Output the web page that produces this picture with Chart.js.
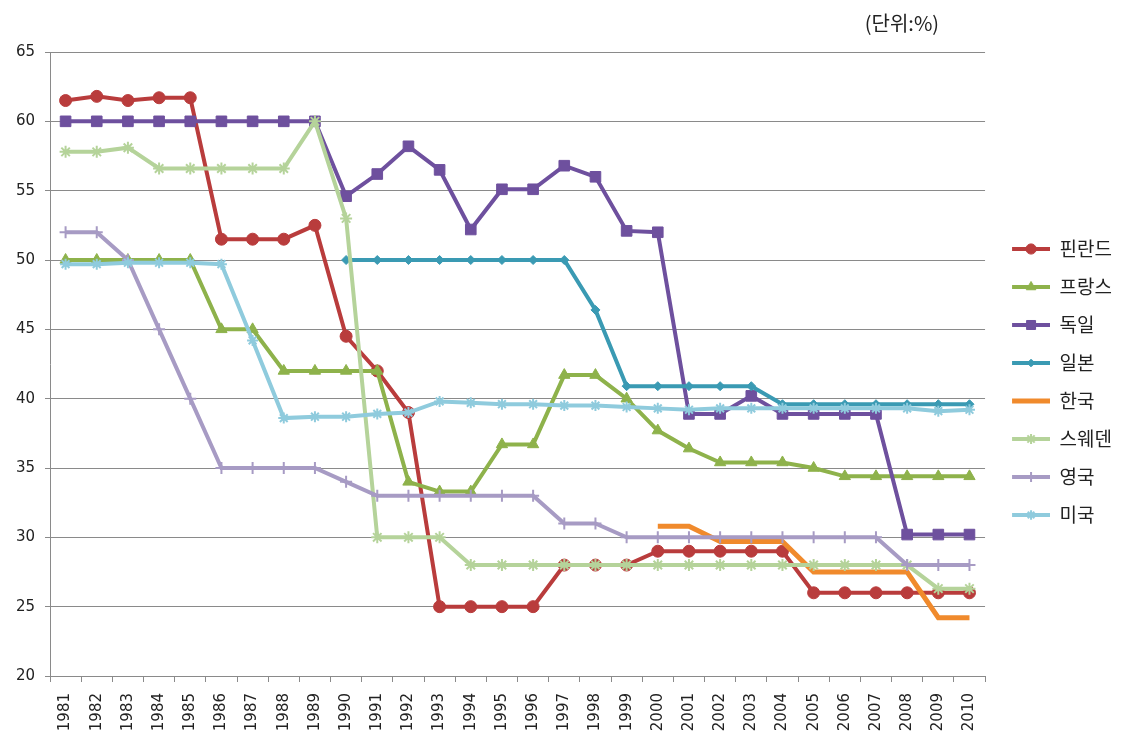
<!DOCTYPE html>
<html>
<head>
<meta charset="utf-8">
<script src="https://cdn.jsdelivr.net/npm/chart.js@4.4.1/dist/chart.umd.min.js"></script>
<style>
  html, body { margin: 0; padding: 0; background: #fff; }
  #wrap { width: 1124px; height: 740px; }
</style>
</head>
<body>
<div id="wrap"><canvas id="myChart" width="1124" height="740"></canvas></div>
<script>
// 연도
const years = ['1981', '1982', '1983', '1984', '1985', '1986', '1987', '1988', '1989', '1990',
  '1991', '1992', '1993', '1994', '1995', '1996', '1997', '1998', '1999', '2000',
  '2001', '2002', '2003', '2004', '2005', '2006', '2007', '2008', '2009', '2010']

// values (%)
const finland = [61.5, 61.8, 61.5, 61.7, 61.7, 51.5, 51.5, 51.5, 52.5, 44.5,
  42, 39, 25, 25, 25, 25, 28, 28, 28, 29,
  29, 29, 29, 29, 26, 26, 26, 26, 26, 26]
const france = [50, 50, 50, 50, 50, 45, 45, 42, 42, 42,
  42, 34, 33.3, 33.3, 36.7, 36.7, 41.7, 41.7, 40, 37.7,
  36.4, 35.4, 35.4, 35.4, 35, 34.4, 34.4, 34.4, 34.4, 34.4]
const germany = [60, 60, 60, 60, 60, 60, 60, 60, 60, 54.6,
  56.2, 58.2, 56.5, 52.2, 55.1, 55.1, 56.8, 56, 52.1, 52,
  38.9, 38.9, 40.2, 38.9, 38.9, 38.9, 38.9, 30.2, 30.2, 30.2]
const japan = [null, null, null, null, null, null, null, null, null, 50,
  50, 50, 50, 50, 50, 50, 50, 46.4, 40.9, 40.9,
  40.9, 40.9, 40.9, 39.6, 39.6, 39.6, 39.6, 39.6, 39.6, 39.6]
const korea = [null, null, null, null, null, null, null, null, null, null,
  null, null, null, null, null, null, null, null, null, 30.8,
  30.8, 29.7, 29.7, 29.7, 27.5, 27.5, 27.5, 27.5, 24.2, 24.2]
const sweden = [57.8, 57.8, 58.1, 56.6, 56.6, 56.6, 56.6, 56.6, 60, 53,
  30, 30, 30, 28, 28, 28, 28, 28, 28, 28,
  28, 28, 28, 28, 28, 28, 28, 28, 26.3, 26.3]
const uk = [52, 52, 50, 45, 40, 35, 35, 35, 35, 34,
  33, 33, 33, 33, 33, 33, 31, 31, 30, 30,
  30, 30, 30, 30, 30, 30, 30, 28, 28, 28]
const usa = [49.7, 49.7, 49.8, 49.8, 49.8, 49.7, 44.2, 38.6, 38.7, 38.7,
  38.9, 39.0, 39.8, 39.7, 39.6, 39.6, 39.5, 39.5, 39.4, 39.3,
  39.2, 39.3, 39.3, 39.3, 39.3, 39.3, 39.3, 39.3, 39.1, 39.2]

const unitText = '(단위:%)'
const gridColor = '#8a8a8a'
const textColor = '#222'

function series(label, data, color, style, radius, extra) {
  return Object.assign({
    label,
    data,
    borderColor: color,
    backgroundColor: color,
    borderWidth: 4,
    pointStyle: style,
    pointRadius: radius,
    pointHoverRadius: radius,
    pointBackgroundColor: color,
    pointBorderColor: color,
    pointBorderWidth: style === 'star' || style === 'cross' || style === 'crossRot' ? 2 : 1,
    tension: 0
  }, extra || {})
}

const datasets = [
  series('핀란드', finland, '#B93C3C', 'circle', 6),
  series('프랑스', france, '#8EB24B', 'triangle', 6.5),
  series('독일', germany, '#6E509E', 'rect', 7.5),
  series('일본', japan, '#3A9AB3', 'rectRot', 4.5),
  series('한국', korea, '#F08A2C', false, 0, { borderWidth: 5 }),
  series('스웨덴', sweden, '#B5D39A', 'star', 6),
  series('영국', uk, '#A79BC4', 'cross', 6),
  series('미국', usa, '#8FCBDD', 'star', 5.5)
]
// excel draws the last series on top
datasets.forEach((ds, i) => { ds.order = datasets.length - i })

// small line + marker picture for the legend
function legendIcon(ds) {
  const c = document.createElement('canvas')
  c.width = 46
  c.height = 18
  const ctx = c.getContext('2d')
  ctx.strokeStyle = ds.borderColor
  ctx.lineWidth = ds.borderWidth
  ctx.beginPath()
  ctx.moveTo(8, 9)
  ctx.lineTo(46, 9)
  ctx.stroke()
  if (ds.pointStyle && Chart.helpers && Chart.helpers.drawPoint) {
    ctx.fillStyle = ds.pointBackgroundColor
    ctx.strokeStyle = ds.pointBorderColor
    ctx.lineWidth = ds.pointBorderWidth
    Chart.helpers.drawPoint(ctx, {
      pointStyle: ds.pointStyle, radius: ds.pointRadius * 0.85, rotation: 0, borderWidth: ds.pointBorderWidth
    }, 27, 9)
  }
  return c
}

const unitLabel = {
  id: 'unitLabel',
  afterDraw(chart) {
    const { ctx, chartArea } = chart
    ctx.save()
    ctx.font = '20px "Noto Sans CJK KR"'
    ctx.fillStyle = textColor
    ctx.textAlign = 'right'
    ctx.textBaseline = 'middle'
    ctx.fillText(unitText, chartArea.right - 46, 23)
    ctx.restore()
  }
}

const canvas = document.getElementById('myChart')
const myChart = new Chart(canvas, {
  type: 'line',
  data: { labels: years, datasets },
  options: {
    responsive: false,
    animation: false,
    layout: { padding: { top: 52, right: 2, left: 0, bottom: 0 } },
    plugins: {
      tooltip: { enabled: false },
      legend: {
        position: 'right',
        fullSize: false,
        // empty title only pushes the items down a little
        title: { display: true, text: ' ', padding: { top: 11, bottom: 10.6 }, font: { size: 12 } },
        labels: {
          usePointStyle: true,
          pointStyleWidth: 46,
          padding: 19,
          color: textColor,
          font: { family: '"Noto Sans CJK KR"', size: 19 },
          generateLabels: chart => chart.data.datasets.map((ds, i) => ({
            text: ds.label,
            fillStyle: ds.borderColor,
            strokeStyle: ds.borderColor,
            lineWidth: 0,
            pointStyle: legendIcon(ds),
            fontColor: textColor,
            hidden: !chart.isDatasetVisible(i),
            datasetIndex: i
          }))
        }
      }
    },
    scales: {
      x: {
        offset: true,
        grid: { offset: true, drawOnChartArea: false, drawTicks: true, tickLength: 6, color: gridColor },
        border: { color: gridColor },
        ticks: {
          autoSkip: false, maxRotation: 90, minRotation: 90, padding: 11,
          color: textColor, font: { family: '"DejaVu Sans"', size: 15 }
        },
        afterFit: scale => { scale.height = 64 }
      },
      y: {
        min: 20,
        max: 65,
        grid: { color: gridColor, tickLength: 5 },
        border: { color: gridColor },
        ticks: { stepSize: 5, padding: 10, color: textColor, font: { family: '"DejaVu Sans"', size: 15 } },
        afterFit: scale => { scale.width = 50 }
      }
    }
  },
  plugins: [unitLabel]
})
</script>
</body>
</html>
